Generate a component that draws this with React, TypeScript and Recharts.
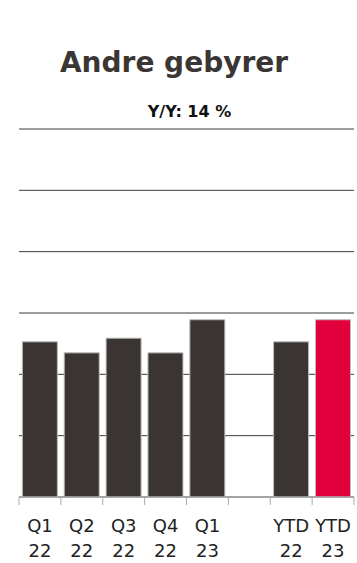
import React from "react";
import { BarChart, Bar, XAxis, YAxis, CartesianGrid, Cell } from "recharts";

const categories = ["Q1 22", "Q2 22", "Q3 22", "Q4 22", "Q1 23", "", "YTD 22", "YTD 23"];
const values: (number | null)[] = [253, 235, 259, 235, 289, null, 253, 289];
const highlight = [false, false, false, false, false, false, false, true];
const yTicks = [0, 100, 200, 300, 400, 500, 600];

const data = categories.map((c, i) => ({ name: c, value: values[i] }));

const W = 357;
const H = 563;
const M = { top: 129, right: 3, left: 19, bottom: 0 };
const BAND = (W - M.left - M.right) / categories.length;

const Tick = (props: any) => {
  const { x, y, payload, index } = props;
  const parts = String(payload.value).split(" ");
  const half = BAND / 2;
  return (
    <g>
      <line x1={x - half} x2={x - half} y1={y - 8} y2={y} stroke="#aaaaaa" strokeWidth={1} />
      {index === categories.length - 1 && (
        <line x1={x + half} x2={x + half} y1={y - 8} y2={y} stroke="#aaaaaa" strokeWidth={1} />
      )}
      {parts[0] && (
        <text x={x} y={y + 27} textAnchor="middle" fontSize={18} fill="#222" fontFamily="DejaVu Sans">
          {parts[0]}
        </text>
      )}
      {parts[1] && (
        <text x={x} y={y + 52} textAnchor="middle" fontSize={18} fill="#222" fontFamily="DejaVu Sans">
          {parts[1]}
        </text>
      )}
    </g>
  );
};

export default function App() {
  return (
    <div style={{ position: "relative", width: W, height: H, background: "#fff" }}>
      <style>{`body{margin:0}`}</style>
      <div
        style={{
          position: "absolute",
          left: 0,
          top: 43,
          width: 348,
          textAlign: "center",
          fontFamily: "'DejaVu Sans'",
          fontWeight: "bold",
          fontSize: 28,
          color: "#3a3634",
          lineHeight: "40px",
        }}
      >
        Andre gebyrer
      </div>
      <div
        style={{
          position: "absolute",
          left: 0,
          top: 103,
          width: 379,
          textAlign: "center",
          fontFamily: "'DejaVu Sans'",
          fontWeight: "bold",
          fontSize: 16,
          color: "#111",
          lineHeight: "18px",
        }}
      >
        Y/Y: 14 %
      </div>
      <div style={{ position: "absolute", left: 0, top: 0 }}>
        <BarChart width={W} height={H} data={data} margin={M} barCategoryGap="8%">
          <CartesianGrid horizontal vertical={false} stroke="#3a3a3a" strokeOpacity={1} />
          <YAxis hide domain={[0, 600]} ticks={yTicks} />
          <XAxis
            dataKey="name"
            height={66}
            axisLine={{ stroke: "#aaaaaa" }}
            tickLine={false}
            tick={<Tick />}
            interval={0}
          />
          <Bar dataKey="value" isAnimationActive={false} stroke="#bbbbbb" strokeWidth={1}>
            {data.map((d, i) => (
              <Cell key={i} fill={highlight[i] ? "#e2003c" : "#3a3532"} />
            ))}
          </Bar>
        </BarChart>
      </div>
    </div>
  );
}
